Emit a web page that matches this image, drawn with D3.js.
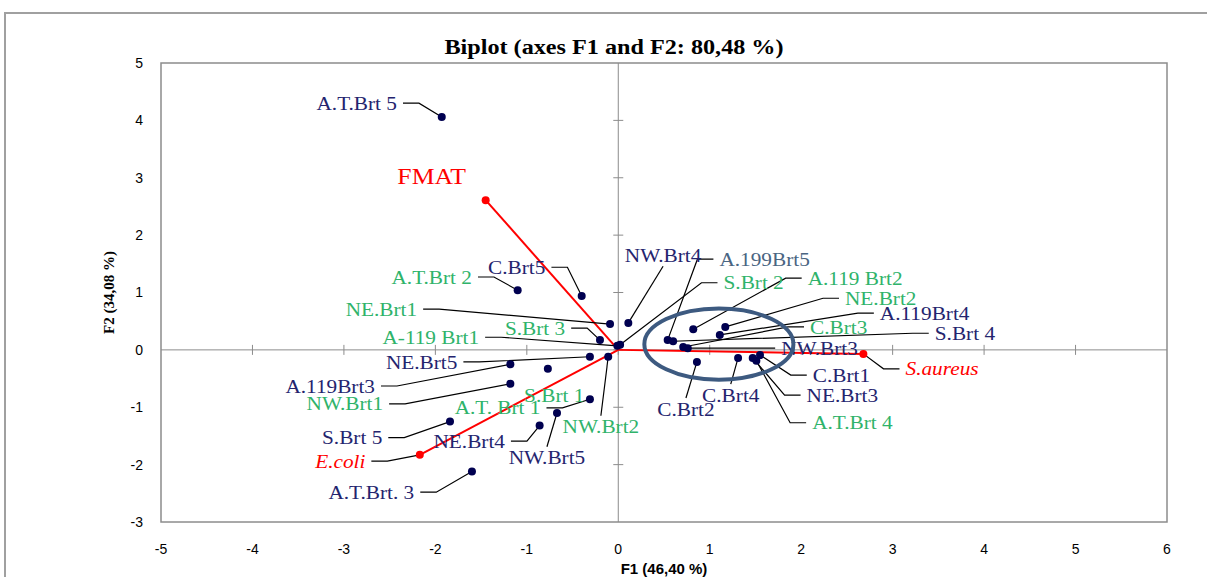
<!DOCTYPE html>
<meta charset="utf-8">
<style>
body { margin: 0; background: #fff; }
.tick-label { font: 14px "Liberation Sans", Arial, sans-serif; fill: #000; }
.obs text { font: 19px "Liberation Serif", serif; }
.leader { fill: none; stroke: #000; stroke-width: 1.2; }
</style>
<svg width="1207" height="577"></svg>
<script src="https://cdn.jsdelivr.net/npm/d3@7"></script>
<script>

// observations (F1, F2) and where their labels sit (also in F1/F2 units)
var obsNames = ["A.T.Brt 5", "A.T.Brt 2", "C.Brt5", "NE.Brt1", "S.Brt 3", "A-119 Brt1", "NE.Brt5",
  "A.119Brt3", "NW.Brt1", "S.Brt 1", "A.T. Brt 1", "NW.Brt2", "NE.Brt4", "NW.Brt5", "S.Brt 5",
  "A.T.Brt. 3", "NW.Brt4", "A.199Brt5", "S.Brt 2", "A.119 Brt2", "NE.Brt2", "A.119Brt4", "C.Brt3",
  "S.Brt 4", "NW.Brt3", "C.Brt1", "NE.Brt3", "A.T.Brt 4", "C.Brt4", "C.Brt2"];
var obsF1 = [-1.93, -1.10, -0.40, -0.09, -0.20, -0.01, -0.31, -1.18, -1.18, -0.77, -0.31, -0.11, -0.86, -0.67, -1.84,
  -1.60, 0.11, 0.54, 0.02, 0.82, 1.17, 1.11, 0.71, 0.60, 0.76, 1.55, 1.47, 1.51, 1.31, 0.86];
var obsF2 = [4.06, 1.04, 0.94, 0.45, 0.17, 0.07, -0.12, -0.25, -0.59, -0.33, -0.86, -0.12, -1.32, -1.10, -1.25,
  -2.12, 0.47, 0.17, 0.09, 0.36, 0.40, 0.26, 0.05, 0.15, 0.03, -0.09, -0.14, -0.19, -0.14, -0.21];
var obsGroup = ["n", "g", "n", "g", "g", "g", "n", "n", "g", "g", "g", "g", "n", "n", "n",
  "n", "n", "s", "g", "g", "g", "n", "g", "n", "n", "n", "n", "g", "n", "n"];
var obsLabelF1 = [-2.86, -2.04, -1.11, -2.59, -0.91, -2.05, -2.15, -3.15, -2.99, -0.70, -1.32, -0.19, -1.63, -0.78, -2.91,
  -2.70, 0.49, 1.60, 1.48, 2.59, 2.87, 3.35, 2.41, 3.79, 2.20, 2.44, 2.45, 2.56, 1.23, 0.74];
var obsLabelF2 = [4.30, 1.27, 1.44, 0.71, 0.38, 0.22, -0.21, -0.63, -0.94, -0.79, -1.01, -1.34, -1.59, -1.88, -1.53,
  -2.48, 1.65, 1.58, 1.17, 1.25, 0.90, 0.64, 0.40, 0.29, 0.03, -0.44, -0.79, -1.27, -0.79, -1.03];
var obsLeader = [1, 1, 1, 1, 1, 1, 1, 1, 1, 0, 1, 1, 1, 1, 1,
  1, 1, 1, 1, 1, 1, 1, 1, 1, 1, 1, 1, 1, 1, 1];

// variables (vectors)
var varNames = ["FMAT", "E.coli", "S.aureus"];
var varF1 = [-1.45, -2.17, 2.68];
var varF2 = [2.61, -1.83, -0.07];
var varLabelF1 = [-2.04, -3.04, 3.54];
var varLabelF2 = [3.03, -1.94, -0.33];
var varItalic = [false, true, true];
var varLeader = [0, 1, 1];

var xTicks = [-5, -4, -3, -2, -1, 0, 1, 2, 3, 4, 5, 6];
var yTicks = [-3, -2, -1, 0, 1, 2, 3, 4, 5];

var groupColor = { n: "#24246e", g: "#2fb36a", s: "#4a6582", r: "#ff0000" };
var stretch = 1.12;

var svg = d3.select("svg");
var x = d3.scaleLinear().domain([-5, 6]).range([161, 1167]);
var y = d3.scaleLinear().domain([-3, 5]).range([522, 63]);

// outer chart border
svg.append("path").attr("d", "M5,577V13H1207")
    .attr("fill", "none").attr("stroke", "#a0a0a0").attr("stroke-width", 2);

svg.append("text").attr("transform", "translate(614,54) scale(1.1,1)").attr("text-anchor", "middle")
    .style("font", "bold 22px 'Liberation Serif', serif").text("Biplot (axes F1 and F2: 80,48 %)");

// plot frame
svg.append("rect").attr("x", x(-5)).attr("y", y(5))
    .attr("width", x(6) - x(-5)).attr("height", y(-3) - y(5))
    .attr("fill", "none").attr("stroke", "#8c8c8c").attr("stroke-width", 1.5);

// zero axes with ticks
var ax = svg.append("g").attr("stroke", "#8c8c8c").attr("stroke-width", 1);
ax.append("line").attr("x1", x(-5)).attr("x2", x(6)).attr("y1", y(0)).attr("y2", y(0));
ax.append("line").attr("x1", x(0)).attr("x2", x(0)).attr("y1", y(5)).attr("y2", y(-3));
ax.selectAll(".xt").data(xTicks.slice(1, -1)).enter().append("line")
    .attr("x1", function(d) { return x(d); }).attr("x2", function(d) { return x(d); })
    .attr("y1", y(0) - 5).attr("y2", y(0) + 5);
ax.selectAll(".yt").data(yTicks.slice(1, -1)).enter().append("line")
    .attr("x1", x(0) - 5).attr("x2", x(0) + 5)
    .attr("y1", function(d) { return y(d); }).attr("y2", function(d) { return y(d); });

svg.selectAll(".xl").data(xTicks).enter().append("text").attr("class", "tick-label")
    .attr("x", function(d) { return x(d); }).attr("y", 554).attr("text-anchor", "middle")
    .text(function(d) { return d; });
svg.selectAll(".yl").data(yTicks).enter().append("text").attr("class", "tick-label")
    .attr("x", 143).attr("y", function(d) { return y(d); }).attr("dy", "0.35em").attr("text-anchor", "end")
    .text(function(d) { return d; });

svg.append("text").attr("x", (x(-5) + x(6)) / 2).attr("y", 574).attr("text-anchor", "middle")
    .style("font", "bold 15px 'Liberation Sans', sans-serif").text("F1 (46,40 %)");
svg.append("text").attr("transform", "translate(114," + (y(5) + y(-3)) / 2 + ") rotate(-90)")
    .attr("text-anchor", "middle")
    .style("font", "bold 15px 'Liberation Serif', serif").text("F2 (34,08 %)");

// build rows
var items = obsNames.map(function(n, i) {
  return { name: n, f1: obsF1[i], f2: obsF2[i], lf1: obsLabelF1[i], lf2: obsLabelF2[i],
           color: groupColor[obsGroup[i]], leader: obsLeader[i], italic: false, dot: "#000050" };
});
var vars = varNames.map(function(n, i) {
  return { name: n, f1: varF1[i], f2: varF2[i], lf1: varLabelF1[i], lf2: varLabelF2[i],
           color: groupColor.r, leader: varLeader[i], italic: varItalic[i], dot: "#ff0000" };
});

// vectors
svg.selectAll(".vec").data(vars).enter().append("line")
    .attr("x1", x(0)).attr("y1", y(0))
    .attr("x2", function(d) { return x(d.f1); }).attr("y2", function(d) { return y(d.f2); })
    .attr("stroke", "#ff0000").attr("stroke-width", 2);

var all = items.concat(vars);
var leaders = svg.append("g");
var g = svg.append("g").attr("class", "obs");

g.selectAll("circle").data(all).enter().append("circle")
    .attr("cx", function(d) { return x(d.f1); }).attr("cy", function(d) { return y(d.f2); })
    .attr("r", 4).attr("fill", function(d) { return d.dot; });

g.selectAll("text").data(all).enter().append("text")
    .attr("transform", function(d) { return "translate(" + x(d.lf1) + "," + y(d.lf2) + ") scale(" + stretch + ",1)"; })
    .attr("dy", "0.35em").attr("text-anchor", "middle")
    .attr("fill", function(d) { return d.color; })
    .style("font-style", function(d) { return d.italic ? "italic" : null; })
    .style("font-size", function(d) { return d.name === "FMAT" ? "23px" : null; })
    .text(function(d) { return d.name; })
    .each(function(d) { d.w = this.getComputedTextLength() * stretch; });

// leader lines
leaders.selectAll("path").data(all.filter(function(d) { return d.leader; })).enter().append("path")
    .attr("class", "leader")
    .attr("d", function(d) {
      var lx = x(d.lf1), ly = y(d.lf2), px = x(d.f1), py = y(d.f2), hw = d.w / 2;
      if (px > lx + hw + 8) return "M" + (lx + hw + 6) + "," + ly + "H" + (lx + hw + 22) + "L" + px + "," + py;
      if (px < lx - hw - 8) return "M" + (lx - hw - 6) + "," + ly + "H" + (lx - hw - 22) + "L" + px + "," + py;
      var sy = py < ly ? ly - 11 : ly + 11;
      return "M" + lx + "," + sy + "L" + px + "," + py;
    });

// highlight ellipse
svg.append("ellipse").attr("cx", x(1.10)).attr("cy", y(0.10))
    .attr("rx", x(1.10 + 0.815) - x(1.10)).attr("ry", y(0) - y(0.62))
    .attr("fill", "none").attr("stroke", "#3d5a80").attr("stroke-width", 4);

</script>
